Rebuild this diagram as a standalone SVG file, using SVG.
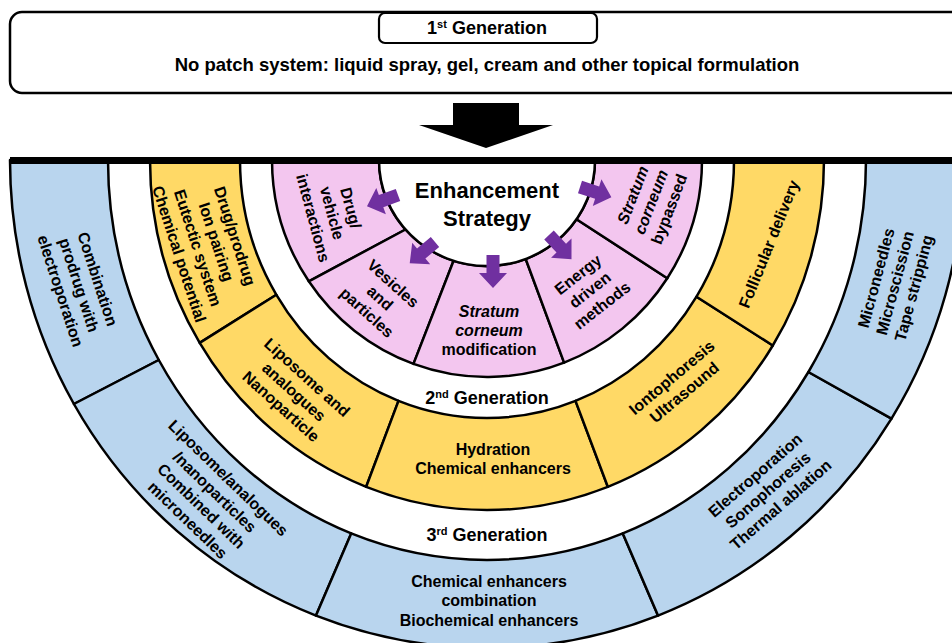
<svg xmlns="http://www.w3.org/2000/svg" xmlns:xlink="http://www.w3.org/1999/xlink" width="952" height="643" viewBox="0 0 952 643">
<style>
text{font-family:"Liberation Sans",Arial,sans-serif;font-weight:bold;fill:#000}
.t16{font-size:16px;text-anchor:middle}
.gen{font-size:18px;text-anchor:middle}
.seg{stroke:#000;stroke-width:2.5;stroke-linejoin:round}
.pink{fill:#F3C6EF}
.yel{fill:#FFD966}
.blue{fill:#B9D5EE}
.it{font-style:italic}
</style>
<defs>
<path id="parrow" d="M0,-6.5 H18 V-14 L33,0 L18,14 V6.5 H0 Z" fill="#7030A0"/>
</defs>
<rect width="952" height="643" fill="#fff"/>

<g id="gen1">
<rect x="10" y="12" width="960" height="81" rx="12" fill="#fff" stroke="#000" stroke-width="2.5"/>
<rect x="379" y="13" width="218" height="30" rx="6" fill="#fff" stroke="#000" stroke-width="2.2"/>
<text class="gen" x="487" y="34">1<tspan font-size="11" dy="-6">st</tspan><tspan dy="6"> Generation</tspan></text>
<text style="font-size:18.5px;text-anchor:middle" x="487" y="71">No patch system: liquid spray, gel, cream and other topical formulation</text>
</g>

<g id="blue-ring">
<g id="b1"><path class="seg blue" d="M73.9,404 A477 488 0 0 1 10,160 L108,160 A379 400 0 0 0 158.8,360 Z"/>
<text class="t16" transform="translate(79,285) rotate(72)"><tspan x="0" y="-14">Combination</tspan><tspan x="0" y="5.5">prodrug with</tspan><tspan x="0" y="25">electroporation</tspan></text></g>
<g id="b2"><path class="seg blue" d="M316,615.6 A477 488 0 0 1 73.9,404 L158.8,360 A379 400 0 0 0 351.2,533.4 Z"/>
<text class="t16" transform="translate(208,499) rotate(44)"><tspan x="0" y="-23.75">Liposome/analogues</tspan><tspan x="0" y="-4.25">/nanoparticles</tspan><tspan x="0" y="15.25">Combined with</tspan><tspan x="0" y="34.75">microneedles</tspan></text></g>
<g id="b3"><path class="seg blue" d="M658,615.6 A477 488 0 0 1 316,615.6 L351.2,533.4 A379 400 0 0 0 622.8,533.4 Z"/>
<text class="t16" x="489"><tspan x="489" y="587">Chemical enhancers</tspan><tspan x="489" y="606">combination</tspan><tspan x="489" y="626">Biochemical enhancers</tspan></text></g>
<g id="b4"><path class="seg blue" d="M891.5,418.6 A477 488 0 0 1 658,615.6 L622.8,533.4 A379 400 0 0 0 808.4,372 Z"/>
<text class="t16" transform="translate(768,490) rotate(-41)"><tspan x="0" y="-14">Electroporation</tspan><tspan x="0" y="5.5">Sonophoresis</tspan><tspan x="0" y="25">Thermal ablation</tspan></text></g>
<g id="b5"><path class="seg blue" d="M964,160 A477 488 0 0 1 891.5,418.6 L808.4,372 A379 400 0 0 0 866,160 Z"/>
<text class="t16" transform="translate(895,283) rotate(-75)"><tspan x="0" y="-14">Microneedles</tspan><tspan x="0" y="5.5">Microscission</tspan><tspan x="0" y="25">Tape stripping</tspan></text></g>
</g>

<g id="yellow-ring">
<g id="y1"><path class="seg yel" d="M199.7,342.9 A337 350 0 0 1 150,160 L240,160 A247 258 0 0 0 276.4,294.8 Z"/>
<text class="t16" transform="translate(207,245) rotate(72)"><tspan x="0" y="-23.75">Drug/prodrug</tspan><tspan x="0" y="-4.25">Ion pairing</tspan><tspan x="0" y="15.25">Eutectic system</tspan><tspan x="0" y="34.75">Chemical potential</tspan></text></g>
<g id="y2"><path class="seg yel" d="M366.2,486.8 A337 350 0 0 1 199.7,342.9 L276.4,294.8 A247 258 0 0 0 398.5,400.9 Z"/>
<text class="t16" transform="translate(294,392) rotate(42)"><tspan x="0" y="-14">Liposome and</tspan><tspan x="0" y="5.5">analogues</tspan><tspan x="0" y="25">Nanoparticle</tspan></text></g>
<g id="y3"><path class="seg yel" d="M607.8,486.8 A337 350 0 0 1 366.2,486.8 L398.5,400.9 A247 258 0 0 0 575.5,400.9 Z"/>
<text class="t16"><tspan x="493" y="455">Hydration</tspan><tspan x="493" y="474">Chemical enhancers</tspan></text></g>
<g id="y4"><path class="seg yel" d="M772.8,345.5 A337 350 0 0 1 607.8,486.8 L575.5,400.9 A247 258 0 0 0 696.5,296.7 Z"/>
<text class="t16" transform="translate(678,385) rotate(-40)"><tspan x="0" y="-4.25">Iontophoresis</tspan><tspan x="0" y="15.25">Ultrasound</tspan></text></g>
<g id="y5"><path class="seg yel" d="M824,160 A337 350 0 0 1 772.8,345.5 L696.5,296.7 A247 258 0 0 0 734,160 Z"/>
<text class="t16" transform="translate(769,244) rotate(-68)"><tspan x="0" y="5.5">Follicular delivery</tspan></text></g>
</g>

<g id="pink-ring">
<g id="p1"><path class="seg pink" d="M308.8,281.3 A215 217 0 0 1 272,160 L379,160 A108 106 0 0 0 405.5,229.5 Z"/>
<text class="t16" transform="translate(332,213) rotate(75)"><tspan x="0" y="-14">Drug/</tspan><tspan x="0" y="5.5">vehicle</tspan><tspan x="0" y="25">interactions</tspan></text></g>
<g id="p2"><path class="seg pink" d="M413.5,363.9 A215 217 0 0 1 308.8,281.3 L405.5,229.5 A108 106 0 0 0 453.6,260.8 Z"/>
<text class="t16" transform="translate(380,298) rotate(42)"><tspan x="0" y="-14">Vesicles</tspan><tspan x="0" y="5.5">and</tspan><tspan x="0" y="25">particles</tspan></text></g>
<g id="p3"><path class="seg pink" d="M564.1,362.6 A215 217 0 0 1 413.5,363.9 L453.6,260.8 A108 106 0 0 0 525.7,259 Z"/>
<text class="t16"><tspan x="489" y="317" class="it">Stratum</tspan><tspan x="489" y="336" class="it">corneum</tspan><tspan x="489" y="355">modification</tspan></text></g>
<g id="p4"><path class="seg pink" d="M667.3,278.2 A215 217 0 0 1 564.1,362.6 L525.7,259 A108 106 0 0 0 576.5,219.3 Z"/>
<text class="t16" transform="translate(590,290) rotate(-38)"><tspan x="0" y="-14">Energy</tspan><tspan x="0" y="5.5">driven</tspan><tspan x="0" y="25">methods</tspan></text></g>
<g id="p5"><path class="seg pink" d="M702,160 A215 217 0 0 1 667.3,278.2 L576.5,219.3 A108 106 0 0 0 595,160 Z"/>
<text class="t16" transform="translate(651,202) rotate(-69)"><tspan x="0" y="-14" class="it">Stratum</tspan><tspan x="0" y="5.5" class="it">corneum</tspan><tspan x="0" y="25">bypassed</tspan></text></g>
</g>

<g id="center">
<path class="seg" fill="#fff" d="M379,160 A108 106 0 0 0 595,160 Z"/>
<text style="font-size:22px;text-anchor:middle"><tspan x="487" y="198">Enhancement</tspan><tspan x="487" y="226">Strategy</tspan></text>
</g>

<g id="gen-labels">
<text class="gen" x="487" y="404">2<tspan font-size="11" dy="-6">nd</tspan><tspan dy="6"> Generation</tspan></text>
<text class="gen" x="487" y="541">3<tspan font-size="11" dy="-6">rd</tspan><tspan dy="6"> Generation</tspan></text>
</g>

<rect id="bar" x="10" y="157" width="942" height="7" fill="#000"/>

<g id="connectors">
<polygon points="453,103 519,103 519,125 553,125 486,148 419,125 453,125" fill="#000"/>
<use xlink:href="#parrow" transform="translate(398,195) rotate(160)"/>
<use xlink:href="#parrow" transform="translate(435,242) rotate(140)"/>
<use xlink:href="#parrow" transform="translate(493,255) rotate(90)"/>
<use xlink:href="#parrow" transform="translate(549,235) rotate(47)"/>
<use xlink:href="#parrow" transform="translate(580,187) rotate(18)"/>
</g>
</svg>
